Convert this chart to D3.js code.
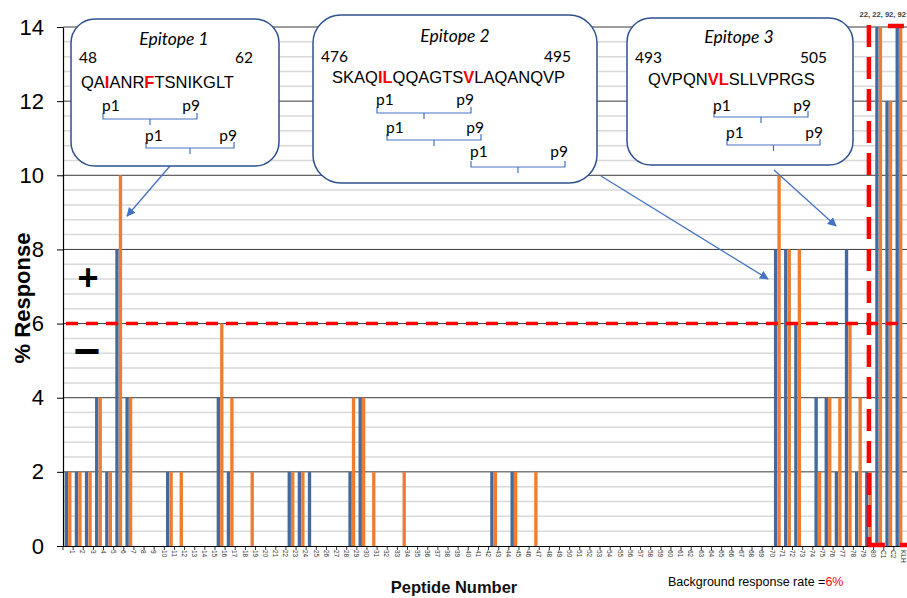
<!DOCTYPE html>
<html>
<head>
<meta charset="utf-8">
<script src="https://cdn.jsdelivr.net/npm/d3@7"></script>
<style>
    html, body { margin: 0; padding: 0; background: #fff; }
    svg { display: block; }
</style>
</head>
<body>
<div class="response-chart"></div>
<script>
// peptide numbers along the x axis, then the three controls
const categories = ('1 2 3 4 5 6 7 8 9 10 11 12 13 14 15 16 17 18 19 20 ' +
    '21 22 23 24 25 26 27 28 29 30 31 32 33 34 35 36 37 38 39 40 ' +
    '41 42 43 44 45 46 47 48 49 50 51 52 53 54 55 56 57 58 59 60 ' +
    '61 62 63 64 65 66 67 68 69 70 71 72 73 74 75 76 77 78 79 80 C1 C2 KLH').split(' ');

// % response, blue series
const blueValues = [
    2, 2, 2, 4, 2, 8, 4, 0, 0, 0,
    2, 0, 0, 0, 0, 4, 2, 0, 0, 0,
    0, 0, 2, 2, 2, 0, 0, 0, 2, 4,
    0, 0, 0, 0, 0, 0, 0, 0, 0, 0,
    0, 0, 2, 0, 2, 0, 0, 0, 0, 0,
    0, 0, 0, 0, 0, 0, 0, 0, 0, 0,
    0, 0, 0, 0, 0, 0, 0, 0, 0, 0,
    8, 8, 6, 0, 4, 4, 2, 8, 2, 2,
    22, 12, 92
];

// % response, orange series
const orangeValues = [
    2, 2, 2, 4, 2, 10, 4, 0, 0, 0,
    2, 2, 0, 0, 0, 6, 4, 0, 2, 0,
    0, 0, 2, 2, 0, 0, 0, 0, 4, 4,
    2, 0, 0, 2, 0, 0, 0, 0, 0, 0,
    0, 0, 2, 0, 2, 0, 2, 0, 0, 0,
    0, 0, 0, 0, 0, 0, 0, 0, 0, 0,
    0, 0, 0, 0, 0, 0, 0, 0, 0, 0,
    10, 8, 8, 0, 2, 4, 4, 6, 4, 2,
    22, 12, 92
];

const yTicks = [0, 2, 4, 6, 8, 10, 12, 14];
const backgroundRate = 6;

const epitopes = [
    {title: 'Epitope 1', start: 48, end: 62, sequence: 'QAIANRFTSNIKGLT', red: [2, 6]},
    {title: 'Epitope 2', start: 476, end: 495, sequence: 'SKAQILQQAGTSVLAQANQVP', red: [4, 5, 12]},
    {title: 'Epitope 3', start: 493, end: 505, sequence: 'QVPQNVLSLLVPRGS', red: [5, 6]}
];

function chartResponse(element) {
    let frame = { width: 907, height: 598 },
        plot = { left: 63, right: 904, top: 27, bottom: 546 },
        blueColor = '#44699e',
        orangeColor = '#ed7d31',
        boxColor = '#2f528f',
        calloutColor = '#4472c4',
        arial = '"Liberation Sans", Arial, sans-serif',
        calibri = 'Lato, "Open Sans", sans-serif',
        yMax = 14,
        rows,
        x0, x1, y,
        svg, grid, bars, axes, notes;

    rows = categories.map((c, i) => ({
        category: c,
        values: [
            {series: 'blue', value: blueValues[i]},
            {series: 'orange', value: orangeValues[i]}
        ]
    }));

    x0 = d3.scaleBand()
        .domain(categories)
        .range([plot.left, plot.right])
        .paddingInner(0.3)
        .paddingOuter(0.15);

    x1 = d3.scaleBand()
        .domain(['blue', 'orange'])
        .range([0, x0.bandwidth()])
        .padding(0.04);

    y = d3.scaleLinear()
        .domain([0, yMax])
        .range([plot.bottom, plot.top]);

    svg = d3.select(element)
        .append('svg')
        .attr('width', frame.width)
        .attr('height', frame.height)
        .attr('viewBox', `0 0 ${frame.width} ${frame.height}`);

    // minor gridlines every 0.4, major every 2
    grid = svg.append('g');
    grid.selectAll('.minor')
        .data(d3.range(0.4, yMax, 0.4).filter(v => Math.abs(v / 2 - Math.round(v / 2)) > 0.01))
        .enter()
        .append('line')
        .attr('x1', plot.left)
        .attr('x2', frame.width)
        .attr('y1', d => y(d))
        .attr('y2', d => y(d))
        .attr('stroke', '#d9d9d9')
        .attr('stroke-width', 1.5);
    grid.selectAll('.major')
        .data(yTicks.slice(1))
        .enter()
        .append('line')
        .attr('x1', plot.left)
        .attr('x2', frame.width)
        .attr('y1', d => y(d))
        .attr('y2', d => y(d))
        .attr('stroke', '#3a3a3a')
        .attr('stroke-width', 1);

    // bars
    bars = svg.append('g')
        .selectAll('g')
        .data(rows)
        .enter()
        .append('g')
        .attr('transform', d => `translate(${x0(d.category)},0)`);

    bars.selectAll('rect')
        .data(d => d.values.filter(v => v.value > 0))
        .enter()
        .append('rect')
        .attr('x', d => x1(d.series))
        .attr('width', x1.bandwidth())
        .attr('y', d => y(Math.min(d.value, yMax)))
        .attr('height', d => y(0) - y(Math.min(d.value, yMax)))
        .attr('fill', d => d.series === 'blue' ? blueColor : orangeColor);

    // axes
    axes = svg.append('g');

    let yAxis = axes.append('g')
        .attr('transform', `translate(${plot.left},0)`)
        .call(d3.axisLeft(y).tickValues(yTicks).tickSize(6).tickPadding(13).tickSizeOuter(0));
    yAxis.select('.domain').attr('stroke', '#000').attr('stroke-width', 1.2);
    yAxis.selectAll('.tick line').attr('stroke', '#000');
    yAxis.selectAll('.tick text')
        .attr('font-family', arial)
        .attr('font-size', 22)
        .attr('fill', '#000');

    let xAxis = axes.append('g')
        .attr('transform', `translate(0,${plot.bottom})`)
        .call(d3.axisBottom(x0).tickSize(0).tickPadding(3).tickSizeOuter(0));
    xAxis.select('.domain').attr('stroke', '#000').attr('stroke-width', 1.2);
    xAxis.selectAll('.tick text')
        .attr('font-family', arial)
        .attr('font-size', 6.5)
        .attr('fill', '#333')
        .attr('text-anchor', 'start')
        .attr('dy', null)
        .attr('y', 0)
        .attr('transform', 'translate(2.3,4) rotate(90)');

    // tick marks sit between the categories
    axes.append('g')
        .selectAll('line')
        .data(categories)
        .enter()
        .append('line')
        .attr('x1', d => x0(d) - x0.step() * 0.15)
        .attr('x2', d => x0(d) - x0.step() * 0.15)
        .attr('y1', plot.bottom)
        .attr('y2', plot.bottom + 4)
        .attr('stroke', '#000')
        .attr('stroke-width', 0.8);

    svg.append('text')
        .attr('transform', 'translate(30,298) rotate(-90)')
        .attr('text-anchor', 'middle')
        .attr('font-family', arial)
        .attr('font-weight', 'bold')
        .attr('font-size', 22)
        .text('% Response');

    svg.append('text')
        .attr('x', 454)
        .attr('y', 593)
        .attr('text-anchor', 'middle')
        .attr('font-family', arial)
        .attr('font-weight', 'bold')
        .attr('font-size', 16.5)
        .attr('fill', '#111')
        .text('Peptide Number');

    let bg = svg.append('text')
        .attr('x', 668)
        .attr('y', 586)
        .attr('font-family', arial)
        .attr('font-size', 12.5)
        .attr('fill', '#000');
    bg.append('tspan').text('Background response rate =');
    bg.append('tspan').attr('fill', '#ff0000').text(backgroundRate + '%');

    // plus / minus either side of the threshold
    svg.append('text')
        .attr('x', 88).attr('y', 290)
        .attr('text-anchor', 'middle')
        .attr('font-family', arial).attr('font-weight', 'bold').attr('font-size', 36)
        .text('+');
    svg.append('text')
        .attr('x', 87).attr('y', 367)
        .attr('text-anchor', 'middle')
        .attr('font-family', arial).attr('font-weight', 'bold').attr('font-size', 46)
        .text('\u2212');

    // background response threshold
    svg.append('line')
        .attr('x1', plot.left + 3)
        .attr('x2', 900)
        .attr('y1', y(backgroundRate))
        .attr('y2', y(backgroundRate))
        .attr('stroke', '#ff0000')
        .attr('stroke-width', 3.5)
        .attr('stroke-dasharray', '12,8');

    // dashed frame round the controls
    let ctrlX = x0('80') + x0.bandwidth() * 0.55;
    svg.append('line')
        .attr('x1', ctrlX).attr('x2', ctrlX)
        .attr('y1', plot.top - 2).attr('y2', plot.bottom)
        .attr('stroke', '#ff0000').attr('stroke-width', 4.5)
        .attr('stroke-dasharray', '22,10');
    svg.append('line')
        .attr('x1', ctrlX + 19).attr('x2', frame.width + 20)
        .attr('y1', plot.top - 1).attr('y2', plot.top - 1)
        .attr('stroke', '#ff0000').attr('stroke-width', 4.5)
        .attr('stroke-dasharray', '16,10');
    svg.append('line')
        .attr('x1', ctrlX - 1).attr('x2', frame.width + 20)
        .attr('y1', plot.bottom - 1).attr('y2', plot.bottom - 1)
        .attr('stroke', '#ff0000').attr('stroke-width', 4.5)
        .attr('stroke-dasharray', '17,15');

    // values of the bars that run off the top
    let offTop = [];
    categories.forEach((c, i) => {
        if (blueValues[i] > yMax) offTop.push(blueValues[i]);
        if (orangeValues[i] > yMax) offTop.push(orangeValues[i]);
    });
    svg.append('text')
        .attr('x', frame.width - 1)
        .attr('y', 17)
        .attr('text-anchor', 'end')
        .attr('font-family', arial)
        .attr('font-weight', 'bold')
        .attr('font-size', 7.6)
        .attr('fill', '#404040')
        .text(offTop.join(', '));

    // epitope call-outs
    let boxes = [
        {x: 71, y: 19, w: 208, h: 147, r: 24, titleY: 45, numY: 63, seqX: 81, seqY: 88,
            brackets: [[103, 197, 119, 111], [146, 234, 148, 141]],
            arrow: [170, 166, 127, 216]},
        {x: 313, y: 15, w: 284, h: 168, r: 28, titleY: 42, numY: 62, seqX: 332, seqY: 83,
            brackets: [[377, 471, 113, 105], [387, 481, 140, 133], [471, 565, 167, 157]],
            arrow: [601, 176, 768, 279]},
        {x: 627, y: 18, w: 226, h: 147, r: 24, titleY: 43, numY: 63, seqX: 648, seqY: 85,
            brackets: [[714, 808, 117, 111], [727, 820, 145, 138]],
            arrow: [774, 170, 836, 226]}
    ];

    svg.append('defs')
        .append('marker')
        .attr('id', 'arrow')
        .attr('viewBox', '0 0 10 10')
        .attr('refX', 9)
        .attr('refY', 5)
        .attr('markerWidth', 9)
        .attr('markerHeight', 9)
        .attr('markerUnits', 'userSpaceOnUse')
        .attr('orient', 'auto')
        .append('path')
        .attr('d', 'M0,0 L10,5 L0,10 z')
        .attr('fill', calloutColor);

    notes = svg.append('g');

    epitopes.forEach((ep, i) => {
        let b = boxes[i],
            g = notes.append('g');

        g.append('line')
            .attr('x1', b.arrow[0]).attr('y1', b.arrow[1])
            .attr('x2', b.arrow[2]).attr('y2', b.arrow[3])
            .attr('stroke', calloutColor)
            .attr('stroke-width', 1.3)
            .attr('marker-end', 'url(#arrow)');

        g.append('rect')
            .attr('x', b.x).attr('y', b.y)
            .attr('width', b.w).attr('height', b.h)
            .attr('rx', b.r).attr('ry', b.r)
            .attr('fill', '#fff')
            .attr('stroke', boxColor)
            .attr('stroke-width', 1.5);

        g.append('text')
            .attr('x', b.x + b.w / 2 + (i === 1 ? 0 : -1))
            .attr('y', b.titleY)
            .attr('text-anchor', 'middle')
            .attr('font-family', calibri)
            .attr('font-style', 'italic')
            .attr('font-size', 17.5)
            .text(ep.title);

        g.append('text')
            .attr('x', b.x + 8).attr('y', b.numY)
            .attr('font-family', calibri).attr('font-size', 15.5)
            .text(ep.start);
        g.append('text')
            .attr('x', b.x + b.w - 26).attr('y', b.numY)
            .attr('text-anchor', 'end')
            .attr('font-family', calibri).attr('font-size', 15.5)
            .text(ep.end);

        let seq = g.append('text')
            .attr('x', b.seqX).attr('y', b.seqY)
            .attr('font-family', arial)
            .attr('font-size', 16.5);
        seq.selectAll('tspan')
            .data(ep.sequence.split(''))
            .enter()
            .append('tspan')
            .attr('fill', (d, k) => ep.red.includes(k) ? '#ff0000' : '#000')
            .attr('font-weight', (d, k) => ep.red.includes(k) ? 'bold' : null)
            .text(d => d);

        b.brackets.forEach(br => {
            let [xa, xb, yl, ty] = br,
                mid = (xa + xb) / 2;
            g.append('path')
                .attr('d', `M${xa},${yl - 6}V${yl}H${xb}V${yl - 6}M${mid},${yl}V${yl + 6}`)
                .attr('fill', 'none')
                .attr('stroke', calloutColor)
                .attr('stroke-width', 1.2);
            g.append('text')
                .attr('x', xa - 1).attr('y', ty)
                .attr('font-family', calibri).attr('font-size', 15.5)
                .text('p1');
            g.append('text')
                .attr('x', xb + 3).attr('y', ty)
                .attr('text-anchor', 'end')
                .attr('font-family', calibri).attr('font-size', 15.5)
                .text('p9');
        });
    });
}

chartResponse(document.querySelector('.response-chart'));
</script>
</body>
</html>
